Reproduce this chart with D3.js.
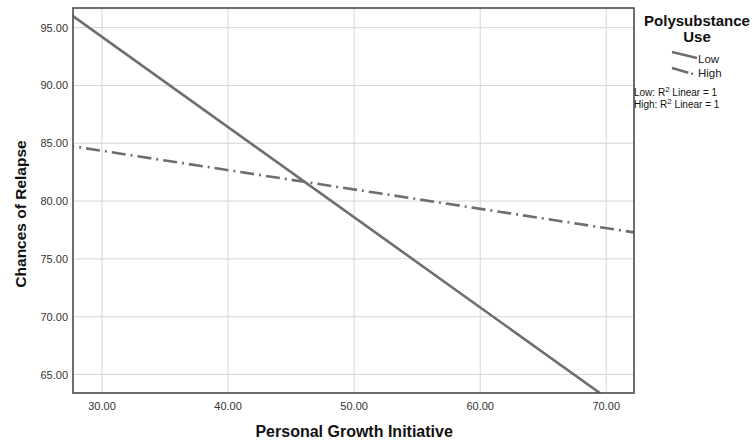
<!DOCTYPE html>
<html>
<head>
<meta charset="utf-8">
<script src="https://cdn.jsdelivr.net/npm/d3@7"></script>
<style>
  body { margin: 0; background: #fff; }
  text { font-family: Arial, "Liberation Sans", sans-serif; }
</style>
</head>
<body>
<script>
var width = 756,
    height = 441;

// fitted lines
var groups = ["Low", "High"];
var xEnds = [30, 70];
var lowValues = [94.2, 63.0];
var highValues = [84.35, 77.66];
var xTicks = [30, 40, 50, 60, 70];
var yTicks = [65, 70, 75, 80, 85, 90, 95];
var r2Labels = ["Low: R", "High: R"];

var margin = { left: 73, top: 8, right: 122, bottom: 48 };

var svg = d3.select("body").append("svg")
    .attr("width", width)
    .attr("height", height);

var x = d3.scaleLinear().domain([27.7, 72.2]).range([margin.left, width - margin.right]);
var y = d3.scaleLinear().domain([63.4, 96.7]).range([height - margin.bottom, margin.top]);

svg.append("defs").append("clipPath").attr("id", "clip")
    .append("rect")
    .attr("x", x.range()[0]).attr("y", y.range()[1])
    .attr("width", x.range()[1] - x.range()[0])
    .attr("height", y.range()[0] - y.range()[1]);

// grid
svg.append("g").selectAll("line")
    .data(xTicks)
    .enter().append("line")
    .attr("x1", d => x(d)).attr("x2", d => x(d))
    .attr("y1", y.range()[1]).attr("y2", y.range()[0])
    .attr("stroke", "#d6d6d6").attr("stroke-width", 1);

svg.append("g").selectAll("line")
    .data(yTicks)
    .enter().append("line")
    .attr("x1", x.range()[0]).attr("x2", x.range()[1])
    .attr("y1", d => y(d)).attr("y2", d => y(d))
    .attr("stroke", "#d6d6d6").attr("stroke-width", 1);

// the two lines
var line = d3.line().x(d => x(d[0])).y(d => y(d[1]));
var series = [
    { name: groups[0], pts: xEnds.map((v, i) => [v, lowValues[i]]), dash: null },
    { name: groups[1], pts: xEnds.map((v, i) => [v, highValues[i]]), dash: "14,5,2,5" }
];

// extend each line to the plot edges (same slope)
series.forEach(function (s) {
    var p = s.pts, k = (p[1][1] - p[0][1]) / (p[1][0] - p[0][0]);
    var x0 = x.domain()[0] - 1, x1 = x.domain()[1] + 1;
    s.full = [[x0, p[0][1] + k * (x0 - p[0][0])], [x1, p[0][1] + k * (x1 - p[0][0])]];
});

svg.append("g").attr("clip-path", "url(#clip)")
    .selectAll("path")
    .data(series)
    .enter().append("path")
    .attr("d", d => line(d.full))
    .attr("fill", "none")
    .attr("stroke", "#6e6e6e")
    .attr("stroke-width", 2.6)
    .attr("stroke-dasharray", d => d.dash);

// frame
svg.append("rect")
    .attr("x", x.range()[0]).attr("y", y.range()[1])
    .attr("width", x.range()[1] - x.range()[0])
    .attr("height", y.range()[0] - y.range()[1])
    .attr("fill", "none").attr("stroke", "#4a4a4a").attr("stroke-width", 1.6);

// tick labels
svg.append("g").selectAll("text")
    .data(xTicks)
    .enter().append("text")
    .attr("x", x).attr("y", y.range()[0] + 17)
    .attr("text-anchor", "middle")
    .attr("font-size", 11).attr("fill", "#333")
    .text(d => d.toFixed(2));

svg.append("g").selectAll("text")
    .data(yTicks)
    .enter().append("text")
    .attr("x", x.range()[0] - 5).attr("y", d => y(d) + 4)
    .attr("text-anchor", "end")
    .attr("font-size", 11).attr("fill", "#333")
    .text(d => d.toFixed(2));

// axis titles
svg.append("text")
    .attr("x", x(50)).attr("y", 437)
    .attr("text-anchor", "middle")
    .attr("font-size", 16).attr("font-weight", "bold").attr("fill", "#111")
    .text("Personal Growth Initiative");

svg.append("text")
    .attr("transform", "translate(26,214) rotate(-90)")
    .attr("text-anchor", "middle")
    .attr("font-size", 15.5).attr("font-weight", "bold").attr("fill", "#111")
    .text("Chances of Relapse");

// legend
var lg = svg.append("g");
lg.append("text").attr("x", 697).attr("y", 26).attr("text-anchor", "middle")
    .attr("font-size", 15).attr("font-weight", "bold").attr("fill", "#111")
    .text("Polysubstance");
lg.append("text").attr("x", 697).attr("y", 42).attr("text-anchor", "middle")
    .attr("font-size", 15).attr("font-weight", "bold").attr("fill", "#111")
    .text("Use");

series.forEach(function (s, i) {
    var yy = 52 + i * 16;
    lg.append("line")
        .attr("x1", 672).attr("y1", yy).attr("x2", s.dash ? 693 : 697).attr("y2", yy + 6)
        .attr("stroke", "#6e6e6e").attr("stroke-width", 2.6)
        .attr("stroke-dasharray", s.dash ? "17,3,2,4" : null);
    lg.append("text").attr("x", 698).attr("y", 63 + i * 14)
        .attr("font-size", 11.5).attr("fill", "#222")
        .text(s.name);
});

r2Labels.forEach(function (t, i) {
    var tx = lg.append("text").attr("x", 634).attr("y", 96 + i * 11.5)
        .attr("font-size", 10).attr("fill", "#111");
    tx.append("tspan").text(t);
    tx.append("tspan").attr("dy", -4).attr("font-size", 8).text("2");
    tx.append("tspan").attr("dy", 4).text(" Linear = 1");
});
</script>
</body>
</html>
